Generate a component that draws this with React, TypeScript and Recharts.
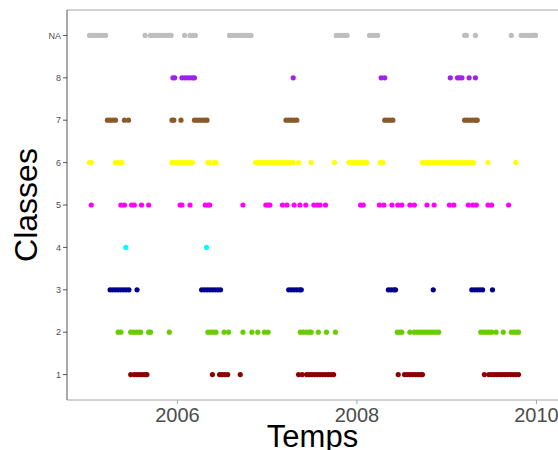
import { ScatterChart, Scatter, XAxis, YAxis, ReferenceLine } from 'recharts'

// x values in decimal years, one array per class (NA shown on row 9)
const classNA = [
  2005.02, 2005.05, 2005.08, 2005.11, 2005.14, 2005.17, 2005.2,
  2005.64, 2005.7, 2005.73, 2005.76, 2005.79, 2005.82, 2005.85, 2005.88, 2005.91, 2005.93,
  2006.08, 2006.14, 2006.17, 2006.2,
  2006.58, 2006.61, 2006.64, 2006.67, 2006.7, 2006.73, 2006.76, 2006.79, 2006.82,
  2007.77, 2007.8, 2007.83, 2007.86, 2007.89,
  2008.14, 2008.17, 2008.2, 2008.23,
  2009.2, 2009.22, 2009.32, 2009.72,
  2009.83, 2009.86, 2009.89, 2009.92, 2009.95, 2009.98, 2009.99,
]
const class8 = [
  2005.95, 2005.97,
  2006.05, 2006.08, 2006.11, 2006.14, 2006.17, 2006.19,
  2007.29,
  2008.27, 2008.31,
  2009.04, 2009.12, 2009.145, 2009.17, 2009.25, 2009.32,
]
const class7 = [
  2005.22, 2005.25, 2005.28, 2005.31, 2005.41, 2005.455,
  2005.94, 2005.96, 2006.04,
  2006.19, 2006.22, 2006.25, 2006.28, 2006.31, 2006.33,
  2007.21, 2007.24, 2007.27, 2007.3, 2007.33,
  2008.31, 2008.34, 2008.37, 2008.4,
  2009.2, 2009.23, 2009.26, 2009.29, 2009.32, 2009.34,
]
const class6 = [
  2005.02, 2005.04,
  2005.31, 2005.34, 2005.38,
  2005.94, 2005.97, 2006.0, 2006.03, 2006.06, 2006.09, 2006.12, 2006.15, 2006.17,
  2006.34, 2006.36, 2006.41, 2006.43,
  2006.87, 2006.9, 2006.93, 2006.96, 2006.99, 2007.02, 2007.05, 2007.08, 2007.11, 2007.14,
  2007.17, 2007.2, 2007.23, 2007.26, 2007.29, 2007.35, 2007.49,
  2007.75,
  2007.91, 2007.94, 2007.97, 2008.0, 2008.03, 2008.06, 2008.09, 2008.11,
  2008.26, 2008.29,
  2008.73, 2008.76, 2008.79, 2008.82, 2008.85, 2008.88, 2008.91, 2008.94, 2008.97, 2009.0,
  2009.03, 2009.06, 2009.09, 2009.12, 2009.15, 2009.18, 2009.21, 2009.24, 2009.27, 2009.3,
  2009.46, 2009.77,
]
const class5 = [
  2005.04, 2005.37, 2005.41, 2005.49, 2005.52, 2005.6, 2005.68,
  2006.03, 2006.05, 2006.14, 2006.31, 2006.34, 2006.36, 2006.73,
  2006.985, 2007.01, 2007.03, 2007.17, 2007.22, 2007.3, 2007.365, 2007.43,
  2007.52, 2007.56, 2007.59, 2007.65,
  2008.04, 2008.07, 2008.25, 2008.3, 2008.39, 2008.455, 2008.5, 2008.59, 2008.64,
  2008.78, 2008.86,
  2009.03, 2009.08, 2009.24, 2009.29, 2009.33, 2009.46, 2009.5, 2009.69,
]
const class4 = [2005.425, 2006.325]
const class3 = [
  2005.25, 2005.28, 2005.31, 2005.34, 2005.37, 2005.4, 2005.43, 2005.46, 2005.55,
  2006.27, 2006.3, 2006.33, 2006.36, 2006.39, 2006.42, 2006.45, 2006.48,
  2007.24, 2007.27, 2007.3, 2007.33, 2007.36, 2007.38,
  2008.35, 2008.38, 2008.41, 2008.43, 2008.85,
  2009.28, 2009.31, 2009.34, 2009.37, 2009.4, 2009.51,
]
const class2 = [
  2005.34, 2005.37, 2005.48, 2005.51, 2005.54, 2005.57, 2005.59, 2005.68, 2005.7, 2005.91,
  2006.34, 2006.37, 2006.4, 2006.43, 2006.52, 2006.57, 2006.73, 2006.83, 2006.895, 2006.97,
  2007.01, 2007.37, 2007.4, 2007.435, 2007.47, 2007.49, 2007.57, 2007.66, 2007.76,
  2008.45, 2008.48, 2008.5, 2008.59, 2008.64, 2008.67, 2008.7, 2008.73, 2008.76, 2008.79,
  2008.82, 2008.85, 2008.88, 2008.91,
  2009.38, 2009.41, 2009.44, 2009.47, 2009.5, 2009.55, 2009.63, 2009.72, 2009.75, 2009.78, 2009.8,
]
const class1 = [
  2005.48, 2005.52, 2005.55, 2005.58, 2005.61, 2005.64, 2005.66,
  2006.39, 2006.47, 2006.5, 2006.53, 2006.56, 2006.7,
  2007.35, 2007.39, 2007.44, 2007.47, 2007.5, 2007.53, 2007.56, 2007.59, 2007.62, 2007.65,
  2007.68, 2007.71, 2007.74,
  2008.46, 2008.53, 2008.56, 2008.59, 2008.62, 2008.65, 2008.68, 2008.71, 2008.73,
  2009.42, 2009.47, 2009.5, 2009.53, 2009.56, 2009.59, 2009.62, 2009.65, 2009.68, 2009.71,
  2009.74, 2009.77, 2009.8,
]

const yearTicks = [2006, 2008, 2010]
const classTicks = [1, 2, 3, 4, 5, 6, 7, 8, 9]

const series = [
  { name: 'NA', y: 9, xs: classNA, color: '#BEBEBE' },
  { name: '8', y: 8, xs: class8, color: '#A020F0' },
  { name: '7', y: 7, xs: class7, color: '#8B5A2B' },
  { name: '6', y: 6, xs: class6, color: '#FFFF00' },
  { name: '5', y: 5, xs: class5, color: '#FF00FF' },
  { name: '4', y: 4, xs: class4, color: '#00FFFF' },
  { name: '3', y: 3, xs: class3, color: '#00008B' },
  { name: '2', y: 2, xs: class2, color: '#66CD00' },
  { name: '1', y: 1, xs: class1, color: '#8B0000' },
]

export default function App() {
  return (
    <div
      style={{
        position: 'absolute',
        left: 0,
        top: 0,
        width: 558,
        height: 450,
        background: '#fff',
        fontFamily: '"Liberation Sans", Arial, sans-serif',
      }}
    >
      <ScatterChart width={558} height={450} margin={{ top: 10, right: 0, bottom: 0, left: 0 }}>
        <XAxis
          type="number"
          dataKey="x"
          domain={[2004.77, 2010.24]}
          ticks={yearTicks}
          allowDataOverflow
          height={50}
          stroke="#A6A6A6"
          tickSize={4}
          tickMargin={4}
          tick={{ fill: '#4D4D4D', fontSize: 20 }}
          label={{ value: 'Temps', position: 'insideBottom', offset: 3, fontSize: 31, fill: '#000' }}
        />
        <YAxis
          type="number"
          dataKey="y"
          domain={[0.4, 9.6]}
          ticks={classTicks}
          allowDataOverflow
          width={67}
          stroke="#555"
          tickSize={4}
          tickMargin={2}
          tick={{ fill: '#4D4D4D', fontSize: 9 }}
          tickFormatter={(v: number) => (v === 9 ? 'NA' : String(v))}
          label={{
            value: 'Classes',
            angle: -90,
            position: 'insideLeft',
            offset: 26,
            fontSize: 32,
            fill: '#000',
            style: { textAnchor: 'middle' },
          }}
        />
        <ReferenceLine y={9.6} stroke="#A6A6A6" />
        {series.map((s) => (
          <Scatter
            key={s.name}
            name={s.name}
            data={s.xs.map((x) => ({ x, y: s.y }))}
            fill={s.color}
            isAnimationActive={false}
            shape={(p: any) => <circle cx={p.cx} cy={p.cy} r={2.6} fill={s.color} />}
          />
        ))}
      </ScatterChart>
    </div>
  )
}
